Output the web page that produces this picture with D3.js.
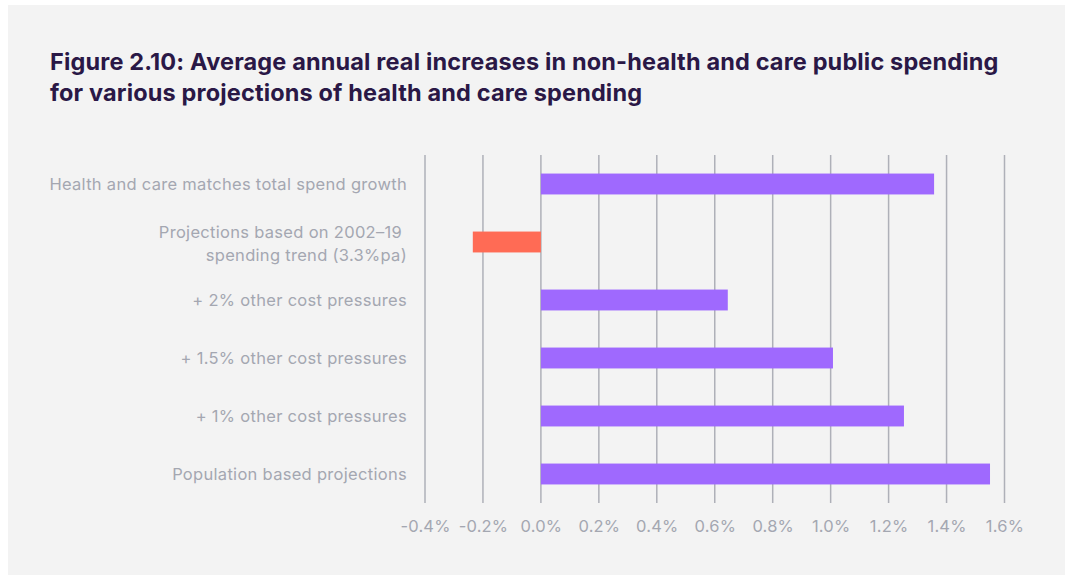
<!DOCTYPE html>
<html>
<head>
<meta charset="utf-8">
<script src="https://cdn.jsdelivr.net/npm/d3@7"></script>
<style>
  html, body { margin: 0; padding: 0; background: #ffffff; }
  svg { display: block; }
</style>
</head>
<body>
<svg id="chart" width="1065" height="575"></svg>
<script>
// Scenario labels (each entry is a list of text lines)
const categories = [
  ["Health and care matches total spend growth"],
  ["Projections based on 2002\u201319\u00a0", "spending trend (3.3%pa)"],
  ["+ 2% other cost pressures"],
  ["+ 1.5% other cost pressures"],
  ["+ 1% other cost pressures"],
  ["Population based projections"]
];
// Average annual real increase in non-health and care spending, %
const values = [1.357, -0.235, 0.645, 1.008, 1.253, 1.55];
const tickValues = [-0.4, -0.2, 0, 0.2, 0.4, 0.6, 0.8, 1.0, 1.2, 1.4, 1.6];
const titleLines = [
  "Figure 2.10: Average annual real increases in non-health and care public spending",
  "for various projections of health and care spending"
];

const svg = d3.select("#chart");
const W = 1065, H = 575;
const FONT = "Inter, 'Noto Sans', sans-serif";

// panel background
svg.append("rect").attr("x", 8).attr("y", 5).attr("width", W - 8).attr("height", H - 5)
  .attr("fill", "#f3f3f3");

// title
const title = svg.append("text")
  .attr("font-family", FONT)
  .attr("font-weight", 700)
  .attr("font-size", 23.5)
  .attr("letter-spacing", 0.15)
  .attr("fill", "#2a1846");
titleLines.forEach((t, i) => {
  title.append("tspan").attr("x", 50).attr("y", 70 + i * 31).text(t);
});

const x = d3.scaleLinear().domain([-0.4, 1.6]).range([425, 1004.5]);
const y = d3.scaleBand().domain(d3.range(categories.length)).range([155, 503]).paddingInner(0.64).paddingOuter(0.32);

// vertical gridlines
svg.append("g").selectAll("line").data(tickValues).join("line")
  .attr("x1", d => x(d)).attr("x2", d => x(d))
  .attr("y1", 155).attr("y2", 503)
  .attr("stroke", "#aeb0b8").attr("stroke-width", 1.5);

// x-axis tick labels
const xAxis = d3.axisBottom(x).tickValues(tickValues)
  .tickFormat(d => d3.format(".1f")(d).replace("\u2212", "-") + "%").tickSize(0).tickPadding(0);
const gx = svg.append("g").attr("transform", "translate(0,520)").call(xAxis);
gx.select(".domain").remove();
gx.selectAll("text")
  .attr("font-family", FONT)
  .attr("font-size", 16.5)
  .attr("letter-spacing", 0.2)
  .attr("fill", "#a4a7b1");

// bars
svg.append("g").selectAll("rect").data(values).join("rect")
  .attr("x", d => x(Math.min(0, d)))
  .attr("width", d => Math.abs(x(d) - x(0)))
  .attr("y", (d, i) => y(i))
  .attr("height", y.bandwidth())
  .attr("fill", d => d < 0 ? "#ff6b55" : "#9f69fe");

// category labels
const lab = svg.append("g")
  .attr("font-family", FONT)
  .attr("font-size", 16.5)
  .attr("letter-spacing", 0.3)
  .attr("fill", "#a4a7b1")
  .attr("text-anchor", "end");
categories.forEach((lines, i) => {
  const cy = y(i) + y.bandwidth() / 2 + (lines.length > 1 ? 1.5 : 0);
  const lh = 23;
  const t = lab.append("text");
  lines.forEach((ln, j) => {
    t.append("tspan").attr("x", 407)
      .attr("y", cy + (j - (lines.length - 1) / 2) * lh)
      .attr("dy", "0.35em")
      .text(ln);
  });
});
</script>
</body>
</html>
